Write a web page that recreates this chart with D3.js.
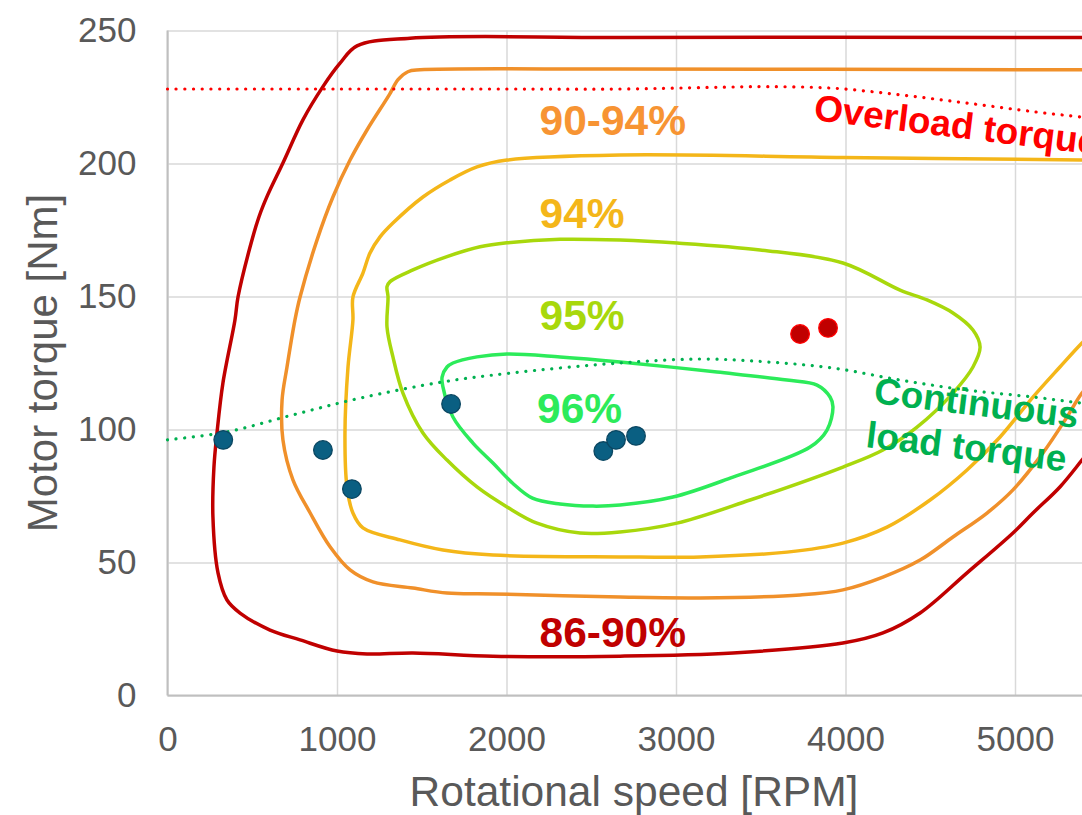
<!DOCTYPE html>
<html>
<head>
<meta charset="utf-8">
<script src="https://cdn.jsdelivr.net/npm/d3@7"></script>
<style>
  body { margin: 0; background: #fff; overflow: hidden; }
  svg { display: block; font-family: "Liberation Sans", Arial, sans-serif; }
</style>
</head>
<body>
<svg id="chart" width="1082" height="815"></svg>
<script>
// efficiency contours [rpm, Nm]
var contour86 = [[5500,247.4],[5395,247.4],[2670,247.4],[1431,247.1],[1118,244.2],[1018,237.7],[917,228.9],[799,216.4],
  [681,200.2],[590,188.0],[540,180.0],[487,168.6],[416,149.8],[398,141.2],[327,117.5],[292,98.7],[274,85.9],
  [268,67.1],[298,46.1],[351,35.9],[428,31.0],[605,24.6],[782,20.9],[1000,16.7],[1177,15.6],[1448,16.0],
  [1920,14.8],[2670,14.8],[3336,16.0],[3985,19.7],[4221,23.5],[4440,31.0],[4717,46.1],[4988,61.1],
  [5106,68.6],[5265,78.4],[5395,88.5],[5500,97]];
var contour90 = [[5500,235.2],[5395,235.2],[2670,235.5],[1490,235.2],[1418,234.5],[1360,231.5],[1310,226],
  [1177,212.6],[1077,201.3],[976,187.4],[882,171.2],[782,149.8],[752,141.2],[705,123.5],[676,111.1],
  [681,96.1],[740,81.1],[841,68.7],[959,55.9],[1077,47.2],[1212,42.7],[1448,40.4],[1649,38.5],[1920,38.2],
  [2670,37.0],[3142,36.7],[3732,37.8],[3985,39.7],[4221,44.5],[4440,50.9],[4634,59.6],[4835,68.6],
  [4988,77.3],[5165,91.2],[5307,104.7],[5395,113.7],[5500,121]];
var contour94 = [[5500,201.2],[5395,201.3],[3985,202.3],[2670,203.2],[2003,201.3],[1826,198.7],[1667,193.8],
  [1507,187.4],[1330,177.6],[1254,172.4],[1195,166.4],[1153,158.8],[1094,149.8],[1094,141.2],[1065,123.5],
  [1047,98.7],[1059,78.4],[1094,68.6],[1153,63.0],[1372,58.5],[1625,54.7],[1920,52.8],[2670,52.1],
  [3142,52.1],[3655,53.9],[3985,57.3],[4245,63.3],[4499,73.5],[4717,84.8],[4912,97.2],[5106,112.2],
  [5265,123.5],[5395,132.5],[5500,139]];
var contour95 = [[1295,153.7],[1301,149.9],[1295,138.5],[1330,127.3],[1389,113.7],[1507,98.7],[1649,88.5],
  [1826,78.4],[2003,70.9],[2180,64.8],[2434,61.1],[2670,61.5],[3006,64.8],[3437,73.5],[3985,85.9],
  [4221,92.3],[4422,100.9],[4634,113.7],[4752,123.5],[4794,131.0],[4752,137.4],[4634,143.8],[4481,148.7],
  [4322,152.4],[3985,162.6],[3496,167.5],[3006,170.1],[2670,171.2],[2316,171.5],[2003,170.2],[1844,168.7],
  [1649,165.0],[1448,160.0],[1313,155.6]];
var contour96 = [[1620,119.7],[1649,123.5],[1684,125.0],[1826,127.3],[2003,128.4],[2316,127.3],[2670,125.4],
  [3242,121.6],[3655,118.6],[3832,116.7],[3909,112.2],[3926,108.5],[3891,99.8],[3791,93.4],[3336,82.1],
  [2982,74.6],[2670,71.6],[2510,71.2],[2316,72.0],[2153,74.2],[2035,79.9],[1920,87.4],[1802,94.9],
  [1684,104.7],[1625,116.0]];

// torque limits
var overloadTorque = [[0,228],[1000,228],[2000,228],[2670,228],[3200,228.6],[3537,228.9],[3926,228.3],
  [4322,225.8],[4717,222.7],[5106,219.5],[5395,217.4],[5500,216.6]];
var continuousTorque = [[0,96.1],[351,99.1],[740,105.5],[1136,111.8],[1625,117.9],[2021,121.2],[2670,125.0],
  [3142,126.5],[3537,125.4],[3926,123.1],[4322,118.6],[4717,114.8],[5106,112.2],[5383,110.0],[5500,109.2]];

// operating points
var bluePoints = [[329,96.1],[917,92.3],[1088,77.6],[1673,109.6],[2571,91.9],[2646,96.1],[2764,97.6]];
var redPoints = [[3732,135.9],[3897,138.2]];

var xTicks = [0,1000,2000,3000,4000,5000];
var yTicks = [0,50,100,150,200,250];

var contourColors = ["#c00000","#f0902a","#f4b619","#a8d80c","#2ceb5a"];
var labelNames = ["86-90%","90-94%","94%","95%","96%"];
var labelColors = ["#c00000","#f79433","#f4b619","#a8d80c","#2ceb5a"];
var labelPos = [[2195,18.2],[2195,210.7],[2195,175.8],[2195,137.4],[2180,102.4]];

var svg = d3.select("#chart");

var x = d3.scaleLinear().domain([0,6000]).range([167.5, 167.5 + 6*169.5]);
var y = d3.scaleLinear().domain([0,250]).range([695.5, 30.5]);

// grid + tick labels
var gx = svg.append("g")
  .attr("transform","translate(0," + y(0) + ")")
  .call(d3.axisBottom(x).tickValues(xTicks).tickFormat(d3.format("d"))
    .tickSize(-(y(0)-y(250))).tickPadding(31));
var gy = svg.append("g")
  .attr("transform","translate(" + x(0) + ",0)")
  .call(d3.axisLeft(y).tickValues(yTicks).tickFormat(d3.format("d"))
    .tickSize(-(x(6000)-x(0))).tickPadding(31));

[gx, gy].forEach(function(g){
  g.select(".domain").remove();
  g.selectAll(".tick line").attr("stroke","#d9d9d9").attr("stroke-width",1.5);
  g.selectAll(".tick text").attr("fill","#595959").style("font-size","35px")
    .style("font-family",'"Liberation Sans", Arial, sans-serif');
});

// axis lines
svg.append("line").attr("x1",x(0)).attr("x2",x(6000)).attr("y1",y(0)).attr("y2",y(0))
  .attr("stroke","#bfbfbf").attr("stroke-width",2);
svg.append("line").attr("x1",x(0)).attr("x2",x(0)).attr("y1",y(0)).attr("y2",y(250))
  .attr("stroke","#bfbfbf").attr("stroke-width",2);

// axis titles
svg.append("text")
  .attr("x",634).attr("y",806)
  .attr("text-anchor","middle").attr("fill","#595959").style("font-size","42.5px")
  .text("Rotational speed [RPM]");
svg.append("text")
  .attr("transform","translate(57,363) rotate(-90)")
  .attr("text-anchor","middle").attr("fill","#595959").style("font-size","42px")
  .text("Motor torque [Nm]");

var openLine = d3.line().x(function(d){return x(d[0]);}).y(function(d){return y(d[1]);})
  .curve(d3.curveCatmullRom.alpha(0.5));
var closedLine = d3.line().x(function(d){return x(d[0]);}).y(function(d){return y(d[1]);})
  .curve(d3.curveCatmullRomClosed.alpha(0.5));

var contours = [contour86, contour90, contour94, contour95, contour96];
contours.forEach(function(c, i){
  svg.append("path")
    .attr("d", i < 3 ? openLine(c) : closedLine(c))
    .attr("fill","none")
    .attr("stroke",contourColors[i])
    .attr("stroke-width",3.5)
    .attr("stroke-linejoin","round");
});

// dotted limit lines
svg.append("path").attr("d",openLine(overloadTorque))
  .attr("fill","none").attr("stroke","#ff0000").attr("stroke-width",3.2)
  .attr("stroke-linecap","round").attr("stroke-dasharray","0.1 8.6");
svg.append("path").attr("d",openLine(continuousTorque))
  .attr("fill","none").attr("stroke","#00b050").attr("stroke-width",3.2)
  .attr("stroke-linecap","round").attr("stroke-dasharray","0.1 8.6");

// points
svg.selectAll("circle.blue").data(bluePoints).enter().append("circle")
  .attr("class","blue")
  .attr("cx",function(d){return x(d[0]);}).attr("cy",function(d){return y(d[1]);})
  .attr("r",9.3).attr("fill","#0a5f82").attr("stroke","#0b4762").attr("stroke-width",1.3);
svg.selectAll("circle.red").data(redPoints).enter().append("circle")
  .attr("class","red")
  .attr("cx",function(d){return x(d[0]);}).attr("cy",function(d){return y(d[1]);})
  .attr("r",9.3).attr("fill","#c00000").attr("stroke","#ff0000").attr("stroke-width",1.3);

// efficiency labels
svg.selectAll("text.eff").data(labelNames).enter().append("text")
  .attr("class","eff")
  .attr("x",function(d,i){return x(labelPos[i][0]);})
  .attr("y",function(d,i){return y(labelPos[i][1]);})
  .attr("fill",function(d,i){return labelColors[i];})
  .style("font-size","42.5px").style("font-weight","bold")
  .text(function(d){return d;});

// limit line labels
var limitLabels = ["Overload torque","Continuous","load torque"];
var limitPos = [[3808,216.4],[4162,110.0],[4115,93.4]];
var limitColors = ["#ff0000","#00b050","#00b050"];
svg.selectAll("text.lim").data(limitLabels).enter().append("text")
  .attr("class","lim")
  .attr("transform",function(d,i){
    return "translate(" + x(limitPos[i][0]) + "," + y(limitPos[i][1]) + ") rotate(7)";
  })
  .attr("fill",function(d,i){return limitColors[i];})
  .style("font-size","37px").style("font-weight","bold")
  .text(function(d){return d;});
</script>
</body>
</html>
